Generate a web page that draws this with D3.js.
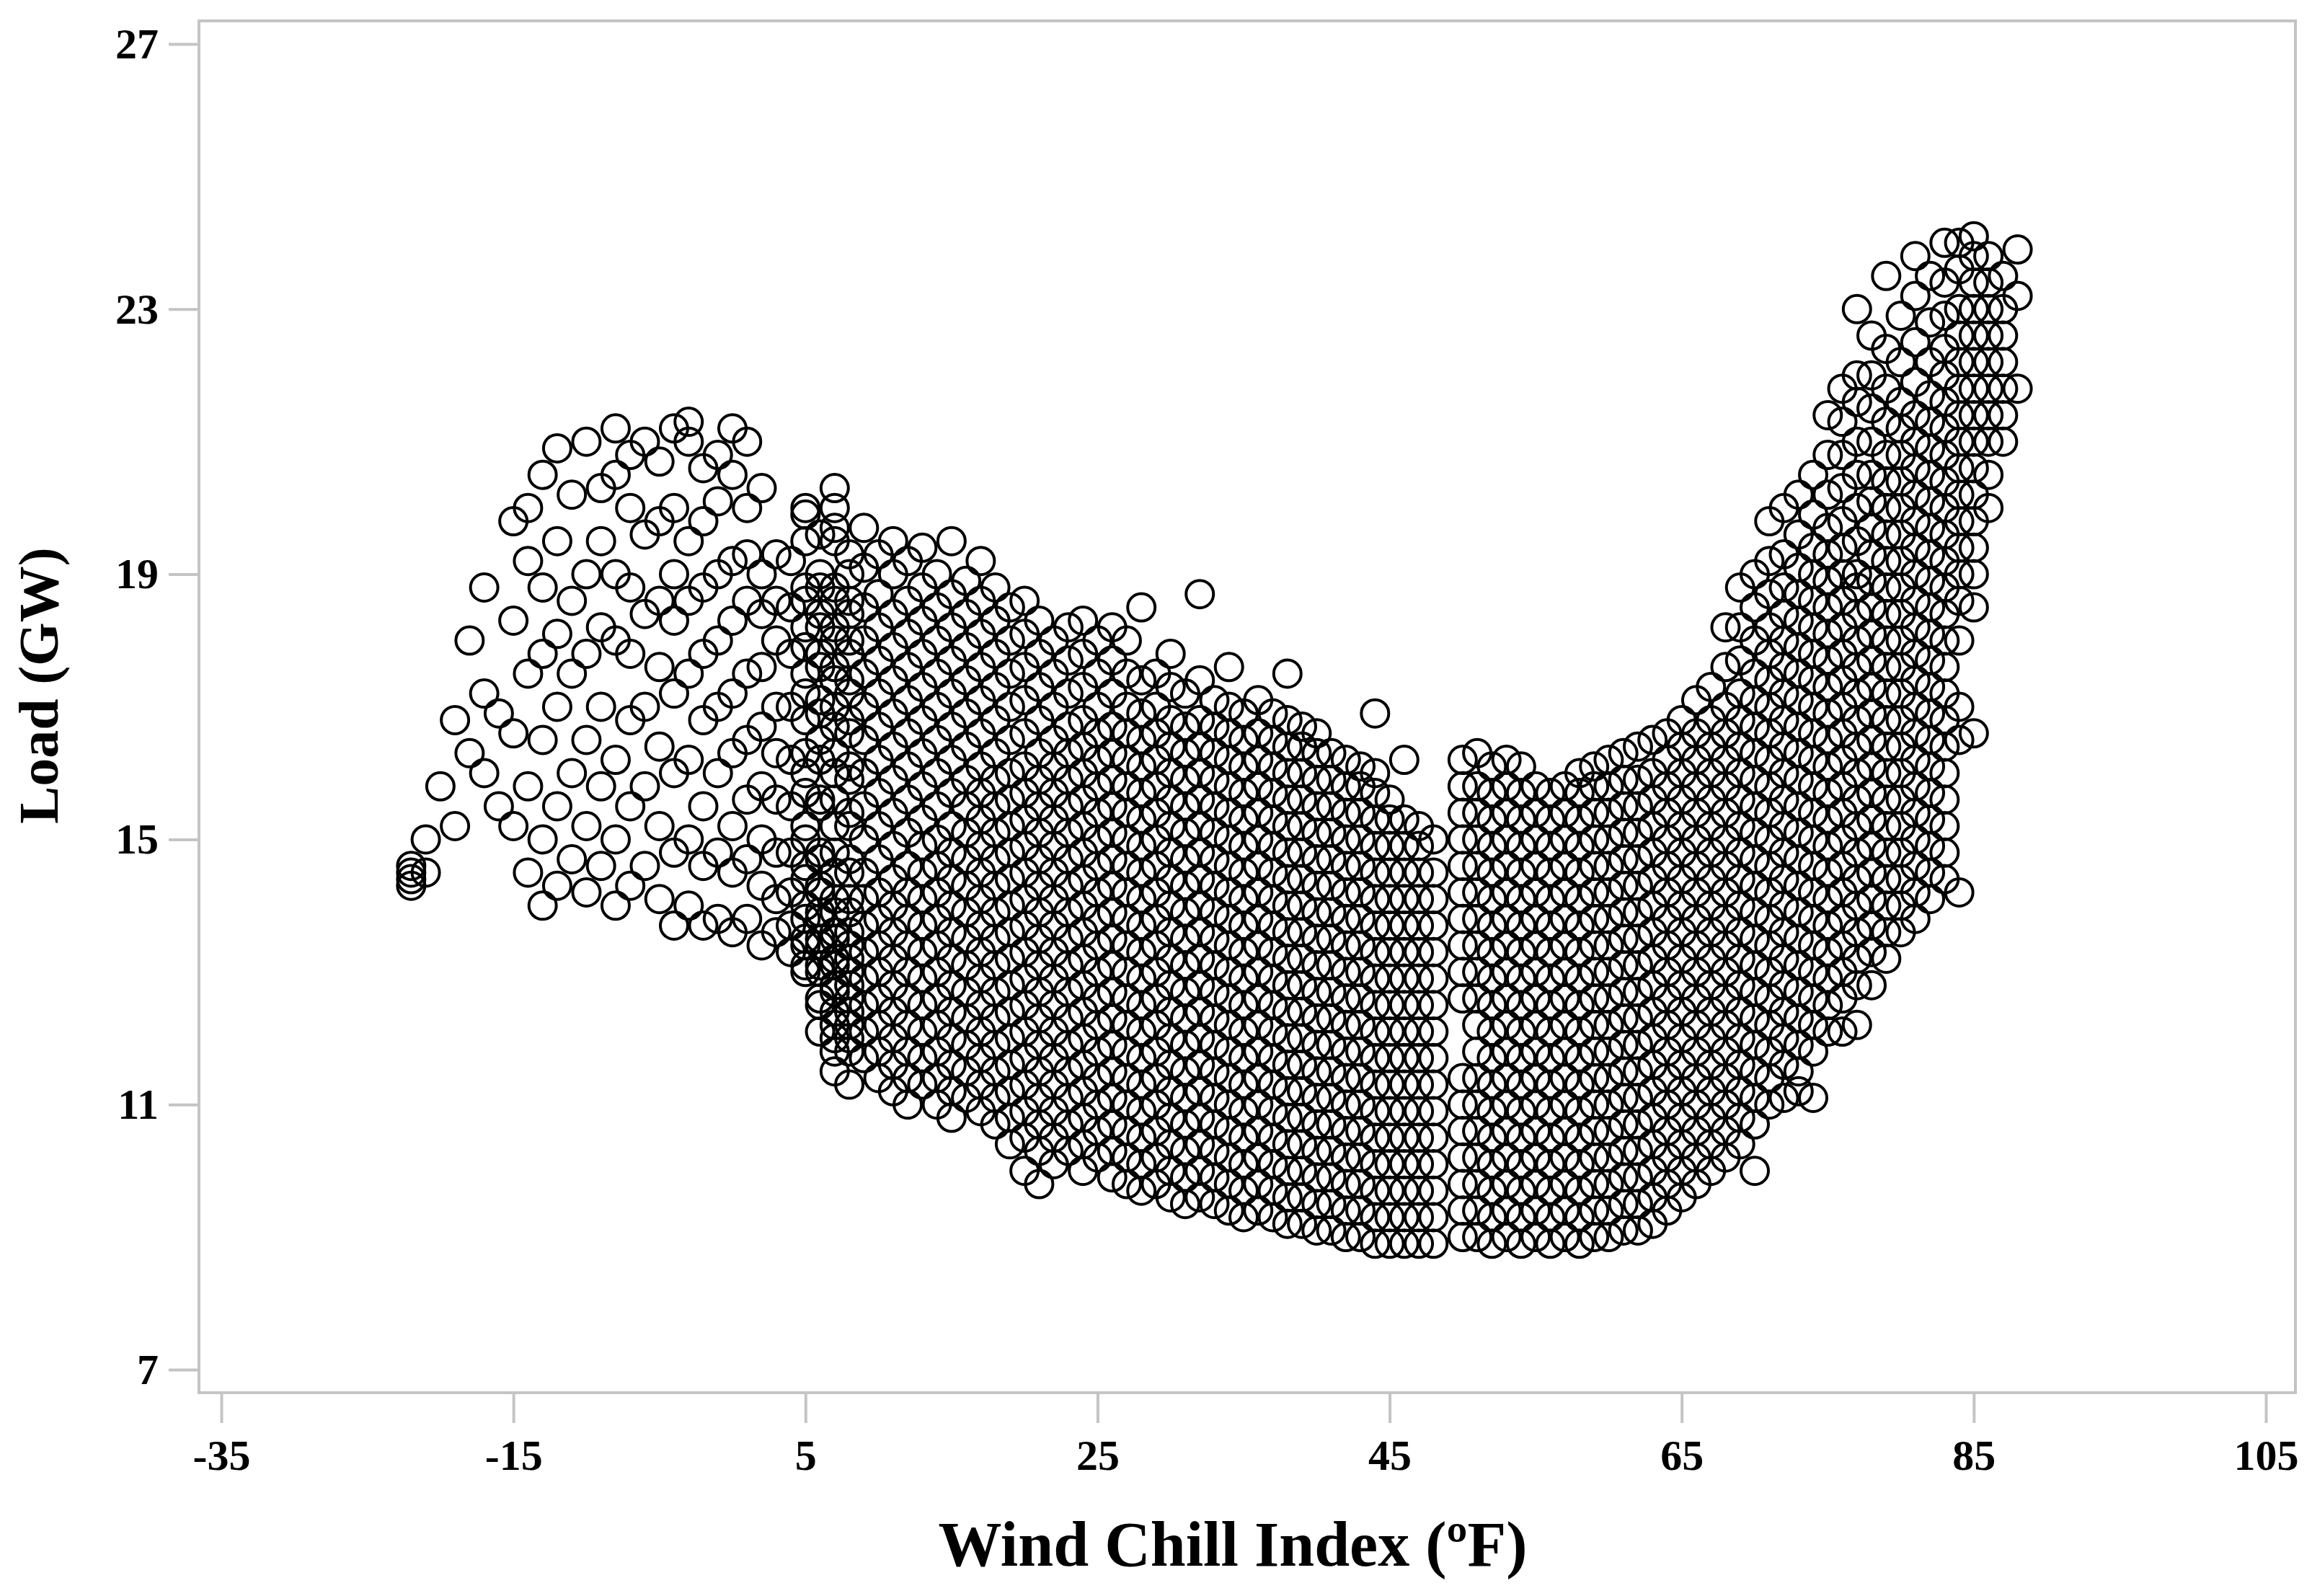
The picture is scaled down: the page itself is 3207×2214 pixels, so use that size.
<!DOCTYPE html>
<html><head><meta charset="utf-8">
<script src="https://cdn.jsdelivr.net/npm/d3@7/dist/d3.min.js"></script>
<style>body{margin:0;background:#fff}</style></head>
<body><svg id="c" width="3207" height="2214"></svg>
<script>
const xTicks=[-35,-15,5,25,45,65,85,105];
const yTicks=[7,11,15,19,23,27];
// Each column: wind chill °F : loads in tenths of GW
const coldColumns=[
"-22:143 145","-22:144 146","-21:145 150","-20:158","-19:152 168","-18:163 180","-17:160 172 188","-16:155 169",
"-15:152 166 183 198","-14:145 158 175 192 200","-13:140 150 165 178 188 205","-12:143 155 170 181 195 209",
"-11:147 160 175 186 202","-10:142 152 165 178 190 210","-9:146 158 170 182 195 203","-8:140 150 162 180 190 205 212",
"-7:143 155 168 178 188 200 208","-6:146 158 170 184 196 210","-5:141 152 164 176 186 198 207",
"-4:137 148 160 172 183 190 200 212","-3:140 150 162 175 186 195 210 213","-2:137 146 155 168 178 188 198 206",
"-1:138 148 160 170 180 190 201 208","0:136 145 152 163 172 183 192 205 212","1:138 147 156 165 175 186 193 200 210",
"2:134 143 150 158 167 176 184 190 203","3:136 141 148 156 163 170 180 186 193",
"4:133 137 142 148 155 162 170 178 185 192","5:131 135 140 146 152 160 168 175 182 188 200",
"5:130 134 138 144 150 157 163 172 179 186 195 199","6:126 131 135 139 143 148 156 165 171 178 184 190",
"6:121 125 130 134 138 142 147 155 162 169 176 182 188 196","7:118 122 127 131 135 139 145 152 160 167 174 180 186 195 200",
"7:115 120 124 128 132 136 141 148 156 163 170 176 182 188 197 203","8:113 118 122 126 130 134 139 145 152 159 166 172 178 184 190",
"8:120 124 128 132 136 141 147 154 161 168 174 180 186 193",
"9:117 121 125 129 133 137 141 145 150 155 160 165 170 175 180 185 191 197",
"10:114 118 122 126 130 134 138 142 147 152 157 162 167 172 177 182 187 193",
"11:112 116 120 124 128 132 136 140 144 149 154 159 164 169 174 179 184 190 195",
"12:110 114 118 122 126 130 134 138 142 146 151 156 161 166 171 176 181 186 192",
"13:113 117 121 125 129 133 137 141 145 149 153 158 163 168 173 178 183 188 194",
"14:110 114 118 122 126 130 134 138 142 146 150 155 160 165 170 175 180 185 190",
"15:108 112 116 120 124 128 132 136 140 144 148 152 157 162 167 172 177 182 187 195",
"16:111 115 119 123 127 131 135 139 143 147 151 155 159 164 169 174 179 184 189",
"17:109 113 117 121 125 129 133 137 141 145 149 153 157 161 166 171 176 181 186 192",
"18:107 111 115 119 123 127 131 135 139 143 147 151 155 159 163 168 173 178 183 188",
"19:104 108 112 116 120 124 128 132 136 140 144 148 152 156 160 165 170 175 180 185",
"20:100 105 109 113 117 121 125 129 133 137 141 145 149 153 157 161 166 171 176 181 186",
"21:98 103 107 111 115 119 123 127 131 135 139 143 147 151 155 159 163 168 173 178 183",
"22:101 105 109 113 117 121 125 129 133 137 141 145 149 153 157 161 165 170 175 180",
"23:103 107 111 115 119 123 127 131 135 139 143 147 151 155 159 163 167 172 177 182",
"24:100 104 108 112 116 120 124 128 132 136 140 144 148 152 156 160 164 168 173 178 183",
"25:102 106 110 114 118 122 126 130 134 138 142 146 150 154 158 162 166 170 175 180",
"26:99 103 107 111 115 119 123 127 131 135 139 143 147 151 155 159 163 167 172 177 182",
"27:98 102 106 110 114 118 122 126 130 134 138 142 146 150 154 158 162 166 170 175 180",
"28:97 101 105 109 113 117 121 125 129 133 137 141 145 149 153 157 161 165 169 174 185",
"29:98 102 106 110 114 118 122 126 130 134 138 142 146 150 154 158 162 166 170 175",
"30:96 100 104 108 112 116 120 124 128 132 136 140 144 148 152 156 160 164 168 173 178",
"31:95 99 103 107 111 115 119 123 127 131 135 139 143 147 151 155 159 163 167 172",
"32:96 100 104 108 112 116 120 124 128 132 136 140 144 148 152 156 160 164 168 174 187",
"33:95 99 103 107 111 115 119 123 127 131 135 139 143 147 151 155 159 163 167 171",
"34:94 98 102 106 110 114 118 122 126 130 134 138 142 146 150 154 158 162 166 170 176",
"35:93 97 101 105 109 113 117 121 125 129 133 137 141 145 149 153 157 161 165 169",
"36:94 98 102 106 110 114 118 122 126 130 134 138 142 146 150 154 158 162 166 171",
"37:93 97 101 105 109 113 117 121 125 129 133 137 141 145 149 153 157 161 165 169",
"38:92 96 100 104 108 112 116 120 124 128 132 136 140 144 148 152 156 160 164 168 175",
"39:92 96 100 104 108 112 116 120 124 128 132 136 140 144 148 152 156 160 164 167",
"40:91 95 99 103 107 111 115 119 123 127 131 135 139 143 147 151 155 159 163 166",
"41:91 95 99 103 107 111 115 119 123 127 131 135 139 143 147 151 155 159 163",
"42:90 94 98 102 106 110 114 118 122 126 130 134 138 142 146 150 154 158 162",
"43:90 94 98 102 106 110 114 118 122 126 130 134 138 142 146 150 154 158 161",
"44:89 93 97 101 105 109 113 117 121 125 129 133 137 141 145 149 153 157 160 169",
"45:89 93 97 101 105 109 113 117 121 125 129 133 137 141 145 149 153 156",
"46:89 93 97 101 105 109 113 117 121 125 129 133 137 141 145 149 153 162",
"47:89 93 97 101 105 109 113 117 121 125 129 133 137 141 145 149 152",
"48:89 93 97 101 105 109 113 117 121 125 129 133 137 141 145 150"];
const warmColumns=[
"50:90 94 98 102 106 110 114 126 130 134 138 142 146 150 154 158 162",
"51:90 94 98 102 106 110 114 118 122 126 130 134 138 142 146 150 154 158 163",
"52:89 93 97 101 105 109 113 117 121 125 129 133 137 141 145 149 153 157 161",
"53:90 94 98 102 106 110 114 118 122 126 130 134 138 142 146 150 154 158 162",
"54:89 93 97 101 105 109 113 117 121 125 129 133 137 141 145 149 153 157 161",
"55:90 94 98 102 106 110 114 118 122 126 130 134 138 142 146 150 154 158",
"56:89 93 97 101 105 109 113 117 121 125 129 133 137 141 145 149 153 157",
"57:90 94 98 102 106 110 114 118 122 126 130 134 138 142 146 150 154 158",
"58:89 93 97 101 105 109 113 117 121 125 129 133 137 141 145 149 153 157 160",
"59:90 94 98 102 106 110 114 118 122 126 130 134 138 142 146 150 154 158 161",
"60:90 94 98 102 106 110 114 118 122 126 130 134 138 142 146 150 154 158 162",
"61:91 95 99 103 107 111 115 119 123 127 131 135 139 143 147 151 155 159 163",
"62:91 95 99 103 107 111 115 119 123 127 131 135 139 143 147 151 155 159 164",
"63:92 96 100 104 108 112 116 120 124 128 132 136 140 144 148 152 156 160 165",
"64:94 98 102 106 110 114 118 122 126 130 134 138 142 146 150 154 158 162 166",
"65:96 100 104 108 112 116 120 124 128 132 136 140 144 148 152 156 160 164 168",
"66:98 102 106 110 114 118 122 126 130 134 138 142 146 150 154 158 162 166 171",
"67:100 104 108 112 116 120 124 128 132 136 140 144 148 152 156 160 164 168 173",
"68:102 106 110 114 118 122 126 130 134 138 142 146 150 154 158 162 166 170 176 182",
"69:104 108 112 116 120 124 128 132 136 140 144 148 152 156 160 164 168 172 177 182 188",
"70:100 107 111 115 119 123 127 131 135 139 143 147 151 155 159 163 167 171 175 180 185 190",
"71:110 114 118 122 126 130 134 138 142 146 150 154 158 162 166 170 174 178 182 187 192 198",
"72:111 116 120 124 128 132 136 140 144 148 152 156 160 164 168 172 176 180 184 188 193 200",
"73:112 115 119 123 127 131 135 139 143 147 151 155 159 163 167 171 175 179 183 187 191 196 202",
"74:111 118 122 126 130 134 138 142 146 150 154 158 162 166 170 174 178 182 186 190 194 199 205",
"75:121 125 129 133 137 141 145 149 153 157 161 165 169 173 177 181 185 189 193 197 202 208 214",
"76:121 126 130 134 138 142 146 150 154 158 162 166 170 174 178 182 186 190 194 198 203 208 213 218",
"77:122 128 132 136 140 144 148 152 156 160 164 168 172 176 180 184 188 190 195 200 205 210 216 220 230",
"78:128 133 137 141 145 149 153 157 161 165 169 173 177 181 185 189 193 197 201 205 210 215 220 226",
"79:132 136 140 144 148 152 156 160 164 168 172 176 180 184 188 192 196 200 204 208 213 218 224 235",
"80:136 140 144 148 152 156 160 164 168 172 176 180 184 188 192 196 200 204 208 212 216 222 229",
"81:138 142 146 150 154 158 162 166 170 174 178 182 186 190 194 198 202 206 210 214 219 225 232 238",
"82:141 145 149 153 157 161 165 169 173 177 181 185 189 193 197 201 205 209 213 217 222 228 235",
"83:144 148 152 156 160 164 168 172 176 180 184 188 192 196 200 204 208 212 216 220 224 229 234 240",
"84:142 165 170 180 186 190 194 198 202 206 210 214 218 222 226 230 236 240",
"85:166 185 190 194 198 202 206 210 214 218 222 226 230 234 238 241",
"86:200 205 210 214 218 222 226 230 234 238",
"87:210 214 218 222 226 230 235",
"88:218 232 239"];

function parse(cols){const out=[];cols.forEach(s=>{const [x,ys]=s.split(":");ys.trim().split(/\s+/).forEach(v=>out.push({x:+x,y:+v/10}));});return out;}
const points=parse(coldColumns).concat(parse(warmColumns));

const svg=d3.select("#c");
const L=276,R=3184,T=29,B=1932;
const x=d3.scaleLinear().domain([-35,105]).range([307,3143]);
const y=d3.scaleLinear().domain([7,27]).range([1900,61]);
const grey="#c4c4c4";
svg.append("rect").attr("x",L).attr("y",T).attr("width",R-L).attr("height",B-T).attr("fill","none").attr("stroke",grey).attr("stroke-width",4);

const font="'Liberation Serif','Times New Roman',serif";
const xa=svg.append("g").attr("transform",`translate(0,${B})`).call(d3.axisBottom(x).tickValues(xTicks).tickSize(42).tickPadding(22).tickFormat(d=>String(d)));
const ya=svg.append("g").attr("transform",`translate(${L},0)`).call(d3.axisLeft(y).tickValues(yTicks).tickSize(42).tickPadding(14).tickFormat(d=>String(d)));
[xa,ya].forEach(a=>{a.select(".domain").remove();a.selectAll("line").attr("stroke",grey).attr("stroke-width",4);
 a.selectAll("text").attr("font-family",font).attr("font-weight","bold").attr("font-size",60).attr("fill","#000");});

svg.append("g").selectAll("circle").data(points).join("circle")
 .attr("cx",d=>x(d.x)).attr("cy",d=>y(d.y)).attr("r",19)
 .attr("fill","none").attr("stroke","#000").attr("stroke-width",4);

svg.append("text").attr("x",1710).attr("y",2172).attr("text-anchor","middle").attr("font-family",font).attr("font-weight","bold").attr("font-size",88).text("Wind Chill Index (ºF)");
svg.append("text").attr("transform","translate(80,951) rotate(-90)").attr("text-anchor","middle").attr("font-family",font).attr("font-weight","bold").attr("font-size",78).text("Load (GW)");
</script></body></html>
